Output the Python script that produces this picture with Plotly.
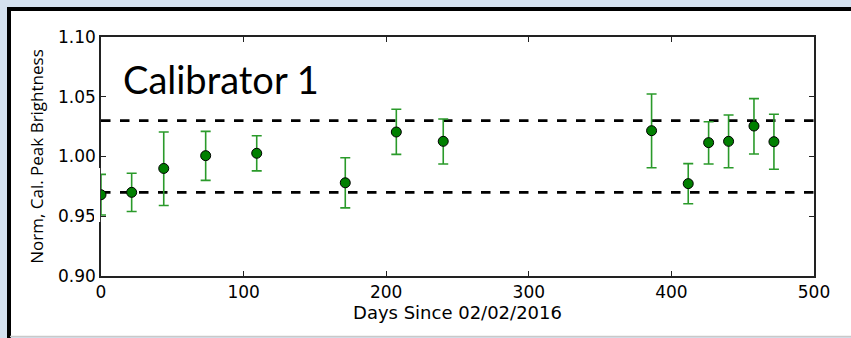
import plotly.graph_objects as go

days = [0, 21.5, 44, 73.4, 109.2, 171.3, 207.1, 240, 386.1, 411.8, 426.1, 440.1, 457.9, 471.9]
brightness = [0.968, 0.970, 0.990, 1.0007, 1.0027, 0.978, 1.0205, 1.0127, 1.0216, 0.9773, 1.0116, 1.0127, 1.0255, 1.0124]
err_plus = [0.017, 0.016, 0.0305, 0.0203, 0.0147, 0.021, 0.019, 0.0187, 0.0307, 0.0167, 0.0175, 0.022, 0.0229, 0.0229]
err_minus = [0.017, 0.016, 0.031, 0.0207, 0.0147, 0.021, 0.0187, 0.019, 0.031, 0.0168, 0.0179, 0.0221, 0.0234, 0.0231]
band_levels = [1.03, 0.97]
x_ticks = [0, 100, 200, 300, 400, 500]
y_ticks = [0.90, 0.95, 1.00, 1.05, 1.10]

W, H = 851, 338
L, R, T, B = 101, 37, 37, 62
PW, PH = W - L - R, H - T - B

def px(x):
    return (x - L) / PW

def py(y):
    return (H - B - y) / PH

fig = go.Figure()

for lv in band_levels:
    fig.add_trace(go.Scatter(
        x=[x_ticks[0], x_ticks[-1]], y=[lv, lv], mode="lines",
        line=dict(color="black", width=2.6, dash="9.5px,9.5px"),
        hoverinfo="skip", showlegend=False))

fig.add_trace(go.Scatter(
    x=days, y=brightness, mode="markers",
    marker=dict(color="#007f00", size=10, line=dict(color="black", width=1)),
    error_y=dict(type="data", symmetric=False, array=err_plus, arrayminus=err_minus,
                 color="#2a9a2a", thickness=1.6, width=5),
    showlegend=False))

shapes = [
    # white card
    dict(type="rect", xref="paper", yref="paper", x0=px(10), x1=px(W + 10), y0=py(H - 2), y1=py(10),
         fillcolor="white", line=dict(width=0), layer="below"),
    # top black border
    dict(type="line", xref="paper", yref="paper", x0=px(7), x1=px(W + 10), y0=py(9), y1=py(9),
         line=dict(color="black", width=4), layer="below"),
    # left black border
    dict(type="line", xref="paper", yref="paper", x0=px(9), x1=px(9), y0=py(7), y1=py(H + 5),
         line=dict(color="black", width=4), layer="below"),
    # bottom grey line
    dict(type="line", xref="paper", yref="paper", x0=px(10), x1=px(W + 10), y0=py(H - 1.5), y1=py(H - 1.5),
         line=dict(color="#c9c9c9", width=1.5), layer="below"),
    # mask so the point sitting on the left spine is clipped like the original
    dict(type="rect", xref="paper", yref="paper", x0=px(94), x1=px(100.1), y0=py(222), y1=py(168),
         fillcolor="white", line=dict(width=0), layer="above"),
]

annotations = [
    dict(text="Calibrator 1", xref="paper", yref="paper", x=px(121), y=py(79),
         xanchor="left", yanchor="middle", showarrow=False,
         font=dict(family="Lato", size=38, color="black")),
]

axis_common = dict(showline=True, mirror="ticks", linecolor="#222222", linewidth=1.6,
                   ticks="inside", ticklen=5, tickwidth=1, tickcolor="#222222",
                   showgrid=False, zeroline=False,
                   tickfont=dict(family="DejaVu Sans", size=17, color="black"))

fig.update_layout(
    width=W, height=H,
    margin=dict(l=L, r=R, t=T, b=B, pad=0),
    paper_bgcolor="#d5e1ef",
    plot_bgcolor="white",
    shapes=shapes,
    annotations=annotations,
    xaxis=dict(range=[x_ticks[0], x_ticks[-1]], tickvals=x_ticks,
               title=dict(text="Days Since 02/02/2016", standoff=4,
                          font=dict(family="DejaVu Sans", size=18, color="black")),
               **axis_common),
    yaxis=dict(range=[y_ticks[0], y_ticks[-1]], tickvals=y_ticks, tickformat=".2f",
               title=dict(text="Norm, Cal. Peak Brightness", standoff=10,
                          font=dict(family="Open Sans", size=17, color="black")),
               **axis_common),
)

fig.write_html("out.html")
